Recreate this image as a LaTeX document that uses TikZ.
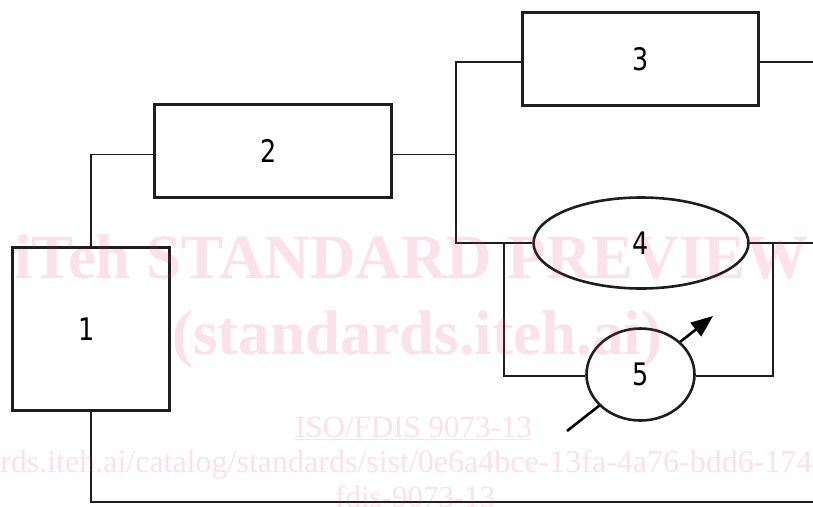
\documentclass[tikz,border=0pt]{standalone}
\usepackage{fontspec}
\setmainfont{Liberation Serif}
\newfontfamily\digitfont[FakeStretch=0.82]{DejaVu Sans}
\usetikzlibrary{shapes.geometric,arrows.meta,calc}
\definecolor{wmpink}{RGB}{230,40,100}
\definecolor{ink}{RGB}{30,30,30}
\tikzset{
  blk/.style={draw=ink, line width=2.6pt, rectangle, inner sep=0pt,
              font=\digitfont\fontsize{31}{31}\selectfont},
  ell/.style={blk, ellipse},
  conn/.style={draw=ink, line width=1.3pt},
  arrowline/.style={draw=black, line width=2.6pt, -{Triangle[length=22pt,width=17pt]}},
  wm/.style={text=wmpink, text opacity=0.14, inner sep=0pt, anchor=base west},
}
\begin{document}
\begin{tikzpicture}[x=1pt,y=-1pt]
\useasboundingbox (0,0) rectangle (813,506);
% helper coordinates
\coordinate (R) at (813,0);
\coordinate (J) at (456,0);
\coordinate (L) at (504,0);
\coordinate (Q) at (773,0);
\coordinate (B) at (0,502);
\coordinate (as) at (567,431);
\coordinate (ae) at (713,316);
% arrow through element 5
\draw[arrowline] (as) -- (ae);
% elements
\node[blk, minimum width=157pt, minimum height=163pt] (b1) at (91,329) {1\hspace*{8pt}};
\node[blk, minimum width=237pt, minimum height=93pt] (b2) at (273,151) {2\hspace*{8pt}};
\node[blk, minimum width=236pt, minimum height=93pt] (b3) at (640.5,59) {3};
\node[ell, minimum width=215pt, minimum height=91pt] (e4) at (641,243) {4};
\node[ell, fill=white, minimum width=108pt, minimum height=92pt] (e5) at (640.5,374.5) {5};
% connectors
\draw[conn] (b1.north) |- ([yshift=-3.5pt]b2.west);
\draw[conn] ([yshift=-3.5pt]b2.east) -- ([yshift=-3.5pt]b2.east -| J);
\draw[conn] ([yshift=-3pt]b3.west) -| (J |- e4.west) -- (e4.west);
\draw[conn] ([yshift=-3pt]b3.east) -- ([yshift=-3pt]b3.east -| R);
\draw[conn] (e4.east) -- (e4.east -| R);
\draw[conn] (L |- e4.west) |- ([yshift=-1.5pt]e5.west);
\draw[conn] ([yshift=-1.5pt]e5.east) -| (Q |- e4.east);
\draw[conn, line width=1.6pt] (b1.south) |- (R |- B);
% watermark
\node[wm, font=\bfseries\fontsize{63}{63}\selectfont] (w1) at (14,278) {iTeh STANDARD PREVIEW};
\node[wm, font=\bfseries\fontsize{63}{63}\selectfont] (w2) at (172,354) {(standards.iteh.ai)};
\node[wm, font=\fontsize{31}{31}\selectfont] (w3) at (295,437) {\underline{ISO/FDIS 9073-13}};
\node[wm, font=\fontsize{32}{32}\selectfont] (w4) at (0,472) {rds.iteh.ai/catalog/standards/sist/0e6a4bce-13fa-4a76-bdd6-174};
\node[wm, font=\fontsize{31}{31}\selectfont] (w5) at (335,507) {fdis-9073-13};
\end{tikzpicture}
\end{document}
